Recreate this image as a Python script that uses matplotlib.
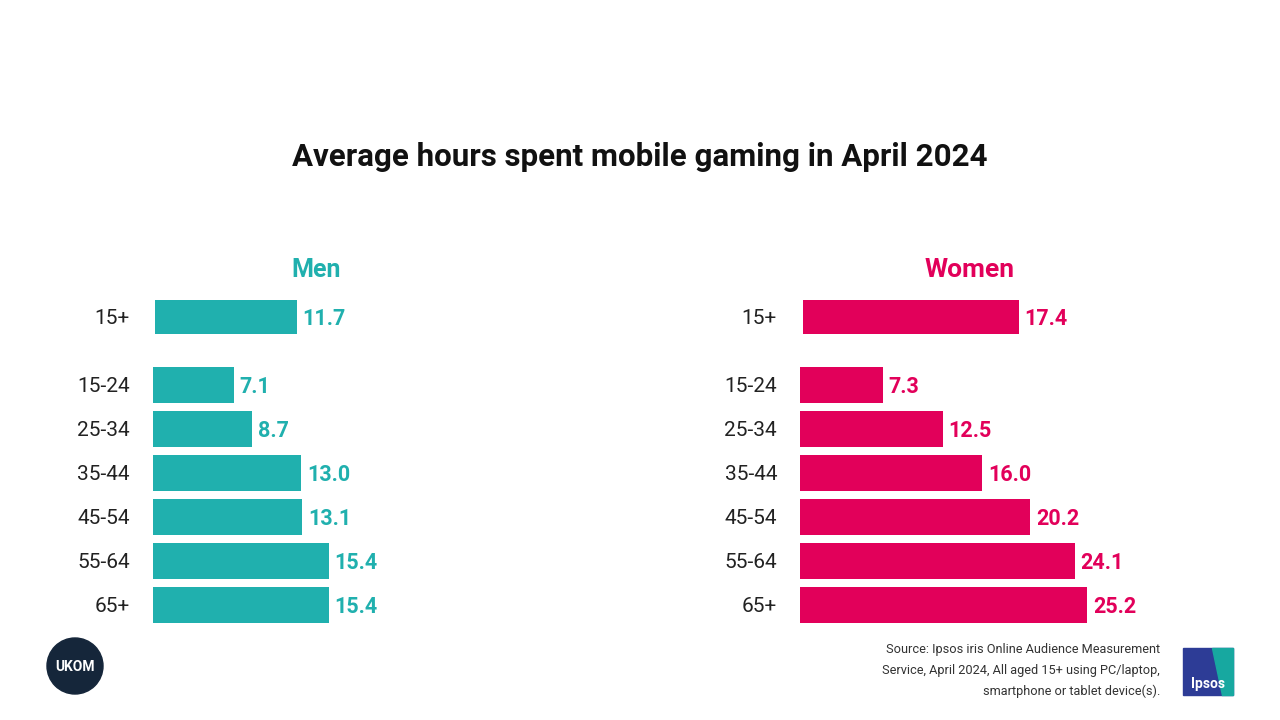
import matplotlib
matplotlib.use('Agg')
import matplotlib.pyplot as plt
from matplotlib.patches import Circle, Rectangle, Polygon

plt.rcParams['font.family'] = ['Roboto', 'DejaVu Sans']

# data
ages = ['15-24', '25-34', '35-44', '45-54', '55-64', '65+']
men = [7.1, 8.7, 13.0, 13.1, 15.4, 15.4]
women = [7.3, 12.5, 16.0, 20.2, 24.1, 25.2]
men_total = 11.7
women_total = 17.4

teal = '#20B0AE'
pink = '#E2005A'

W, H = 1280, 720
fig = plt.figure(figsize=(12.8, 7.2), dpi=100)


def px_axes(x, y, w, h):
    # pixel box (top-left origin) -> figure axes
    return fig.add_axes([x / W, 1 - (y + h) / H, w / W, h / H])


def clean(ax):
    ax.set_axis_off()


def draw_panel(left, label_x, vals, total, color, total_left, total_scale):
    # age groups
    ax = px_axes(left, 363, 320, 264)
    ax.barh(range(len(ages)), vals, height=0.82, color=color)
    ax.set_xlim(0, 320 / 11.4)
    ax.set_ylim(len(ages) - 0.5, -0.5)
    clean(ax)
    for i, v in enumerate(vals):
        ax.annotate(f'{v:.1f}', (v, i), xytext=(4, -1.5), textcoords='offset points',
                    va='center', ha='left', fontsize=15.5, fontweight='bold', color=color)
        fig.text(label_x / W, 1 - (387 + 44 * i) / H, ages[i], ha='right', va='center',
                 fontsize=15, color='#222222')

    # all aged 15+
    ax2 = px_axes(total_left, 296, 320, 42)
    ax2.barh([0], [total], height=0.8, color=color)
    ax2.set_xlim(0, 320 / total_scale)
    ax2.set_ylim(0.5, -0.5)
    clean(ax2)
    ax2.annotate(f'{total:.1f}', (total, 0), xytext=(4, -1.5), textcoords='offset points',
                 va='center', ha='left', fontsize=15.5, fontweight='bold', color=color)
    fig.text(label_x / W, 1 - 319 / H, '15+', ha='right', va='center',
             fontsize=15, color='#222222')


draw_panel(153, 130, men, men_total, teal, 155, 12.1)
draw_panel(800, 777, women, women_total, pink, 803, 12.4)

fig.text(640 / W, 1 - 157 / H, 'Average hours spent mobile gaming in April 2024',
         ha='center', va='center', fontsize=22.5, fontweight='bold', color='#111111')
fig.text(316 / W, 1 - 270 / H, 'Men', ha='center', va='center',
         fontsize=18, fontweight='bold', color=teal)
fig.text(970 / W, 1 - 270 / H, 'Women', ha='center', va='center',
         fontsize=19, fontweight='bold', color=pink)

source = ['Source: Ipsos iris Online Audience Measurement',
          'Service, April 2024, All aged 15+ using PC/laptop,',
          'smartphone or tablet device(s).']
for i, line in enumerate(source):
    fig.text(1160 / W, 1 - (650 + 20.5 * i) / H, line, ha='right', va='center',
             fontsize=9.2, color='#333333')

# logos (rough)
logo = fig.add_axes([0, 0, 1, 1], zorder=-1)
logo.set_xlim(0, W)
logo.set_ylim(H, 0)
logo.set_axis_off()
logo.add_patch(Circle((75, 666), 28, color='#15263A'))
logo.text(75, 667, 'UKOM', ha='center', va='center', fontsize=10,
          fontweight='bold', color='white')
logo.add_patch(Rectangle((1183, 648), 50, 47, color='#2D3C96'))
logo.add_patch(Polygon([(1212, 648), (1233, 648), (1233, 695), (1222, 695)],
                       closed=True, color='#17A8A0'))
logo.text(1208, 684, 'Ipsos', ha='center', va='center', fontsize=10,
          fontweight='bold', color='white')

fig.savefig('out.png', dpi=100, facecolor='white')
